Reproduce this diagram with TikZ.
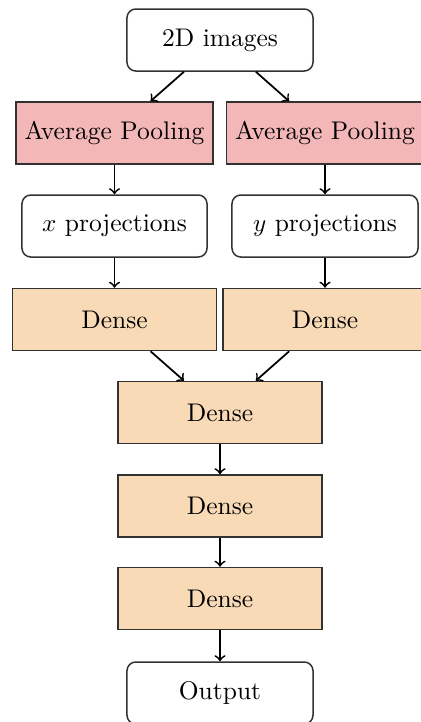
\documentclass[tikz,border=0pt]{standalone}
\definecolor{poolpink}{RGB}{243,183,184}
\definecolor{densetan}{RGB}{248,218,182}
\definecolor{edgegray}{RGB}{50,50,50}
\tikzset{
  base/.style={draw=edgegray, line width=0.6pt, inner sep=0pt, minimum height=24.8pt, text=black, font=\fontsize{10.2}{12}\selectfont},
  roundbox/.style={base, fill=white, rounded corners=3.5pt},
  poolbox/.style={base, fill=poolpink, minimum width=78.8pt},
  densebox/.style={base, fill=densetan, minimum width=81.6pt},
  link/.style={->, line width=0.7pt, black}
}
\begin{document}
\begin{tikzpicture}[x=0.4pt,y=-0.4pt]
\useasboundingbox (0,0) rectangle (421,722);
\node[roundbox, minimum width=74.4pt] (img) at (220,40) {2D images};
\node[poolbox] (apL) at (114.5,133) {Average Pooling};
\node[poolbox] (apR) at (325,133) {Average Pooling};
\node[roundbox, minimum width=74pt] (px) at (114.5,226) {$x$ projections};
\node[roundbox, minimum width=74.4pt] (py) at (325,226) {$y$ projections};
\node[densebox] (dL) at (114.5,319.5) {Dense};
\node[densebox] (dR) at (325,319.5) {Dense};
\node[densebox] (d1) at (220,412.5) {Dense};
\node[densebox] (d2) at (220,506) {Dense};
\node[densebox] (d3) at (220,598.5) {Dense};
\node[roundbox, minimum width=74.4pt] (out) at (220,693) {Output};
\draw[link] (img) -- (apL);
\draw[link] (img) -- (apR);
\draw[link] (apL) -- (px);
\draw[link] (apR) -- (py);
\draw[link] (px) -- (dL);
\draw[link] (py) -- (dR);
\draw[link] (dL) -- (d1);
\draw[link] (dR) -- (d1);
\draw[link] (d1) -- (d2);
\draw[link] (d2) -- (d3);
\draw[link] (d3) -- (out);
\end{tikzpicture}
\end{document}
